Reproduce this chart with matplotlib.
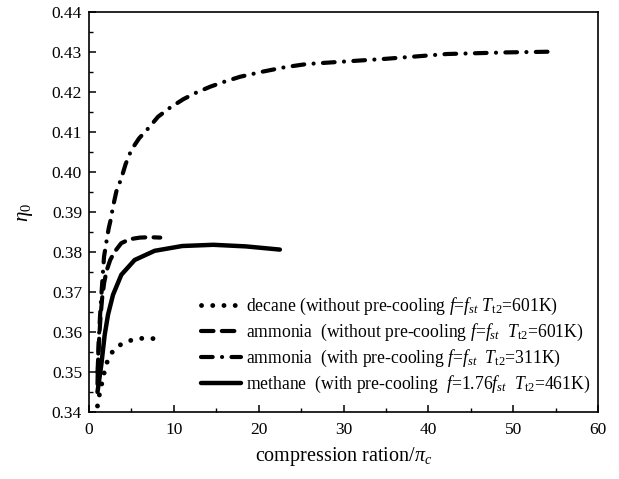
import matplotlib
matplotlib.use("Agg")
import matplotlib.pyplot as plt
from matplotlib.ticker import MultipleLocator

# font tipo Times
plt.rcParams["font.family"] = ["Liberation Serif", "DejaVu Serif"]
plt.rcParams["mathtext.fontset"] = "custom"
plt.rcParams["mathtext.rm"] = "Liberation Serif"
plt.rcParams["mathtext.it"] = "Liberation Serif:italic"

# dati
decane_x = [1.0, 1.06, 1.26, 1.53, 1.8, 2.12, 2.63, 3.4, 4.72, 5.97, 7.23, 8.52]
decane_y = [0.3415, 0.3422, 0.3447, 0.3473, 0.3499, 0.3524, 0.3547, 0.3565, 0.3578, 0.3584, 0.3584, 0.3582]

amm_no_x = [1.0, 1.1, 1.2, 1.35, 1.55, 1.8, 2.1, 2.5, 3.0, 3.8, 4.8, 6.0, 7.2, 8.4]
amm_no_y = [0.350, 0.354, 0.3585, 0.3635, 0.3685, 0.3725, 0.3755, 0.3780, 0.3800, 0.3822,
            0.3832, 0.3836, 0.3837, 0.3836]

amm_pc_x = [1.0, 1.05, 1.15, 1.3, 1.5, 1.77, 2.05, 2.32, 2.55, 2.83, 3.22, 3.81, 4.32, 4.99,
            5.9, 7.15, 8.13, 9.5, 11.12, 12.6, 14.26, 16.0, 17.8, 20.5, 23.1, 25.7, 30.0,
            35.0, 42.2, 49.2, 55.1]
amm_pc_y = [0.347, 0.352, 0.358, 0.364, 0.3705, 0.3788, 0.3825, 0.3859, 0.3880, 0.3913,
            0.3951, 0.3984, 0.4020, 0.4055, 0.4084, 0.4113, 0.4138, 0.4160, 0.4182, 0.4198,
            0.4213, 0.4226, 0.4238, 0.4251, 0.4262, 0.4270, 0.4276, 0.4283, 0.4295, 0.4299, 0.4301]

meth_x = [1.0, 1.2, 1.45, 1.85, 2.24, 2.83, 3.81, 5.38, 7.74, 11.0, 14.65, 18.5, 22.5]
meth_y = [0.345, 0.348, 0.3518, 0.3593, 0.3643, 0.3693, 0.3743, 0.3780, 0.3803, 0.3815,
          0.3818, 0.3814, 0.3806]

etichette = [
    r"decane (without pre-cooling $f$=$f_{st}$ $T_{\rm t2}$=601K)",
    r"ammonia  (without pre-cooling $f$=$f_{st}$  $T_{\rm t2}$=601K)",
    r"ammonia  (with pre-cooling $f$=$f_{st}$  $T_{\rm t2}$=311K)",
    r"methane  (with pre-cooling  $f$=1.76$f_{st}$  $T_{\rm t2}$=461K)",
]

fig = plt.figure(figsize=(6.19, 4.79), dpi=100)
ax = fig.add_axes([89/619, 1-412/479, (598-89)/619, (412-12)/479])

lw = 3.0
ax.plot(decane_x, decane_y, color="black", lw=lw + 0.5, linestyle=(0, (0.01, 2.3)),
        dash_capstyle="round", label=etichette[0])
ax.plot(amm_no_x, amm_no_y, color="black", lw=lw, linestyle=(0, (3.0, 2.0)),
        dash_capstyle="round", label=etichette[1])
ax.plot(amm_pc_x, amm_pc_y, color="black", lw=lw, linestyle=(0, (2.8, 2.25, 0.01, 2.25)),
        dash_capstyle="round", label=etichette[2])
ax.plot(meth_x, meth_y, color="black", lw=lw + 0.2, linestyle="-",
        solid_capstyle="round", label=etichette[3])

ax.set_xlim(0, 60)
ax.set_ylim(0.34, 0.44)
ax.xaxis.set_major_locator(MultipleLocator(10))
ax.xaxis.set_minor_locator(MultipleLocator(5))
ax.yaxis.set_major_locator(MultipleLocator(0.01))
ax.yaxis.set_minor_locator(MultipleLocator(0.005))
ax.yaxis.set_major_formatter(plt.FormatStrFormatter("%.2f"))

ax.tick_params(which="both", direction="in", labelsize=12.5, top=False, right=False)
ax.tick_params(which="major", length=5, width=1.1)
ax.tick_params(which="minor", length=3, width=1.0)
ax.tick_params(axis="x", pad=7)
ax.tick_params(axis="y", pad=5)
for s in ax.spines.values():
    s.set_linewidth(1.2)

ax.set_xlabel(r"compression ration/$\pi_c$", fontsize=14.5, labelpad=5)
ax.set_ylabel(r"$\eta_0$", fontsize=15, labelpad=12)

ax.legend(loc="upper left", bbox_to_anchor=(201/619, 1-296/479), bbox_transform=fig.transFigure,
          frameon=False, fontsize=12.7, handlelength=2.25, handletextpad=0.3,
          labelspacing=0.27, borderpad=0, borderaxespad=0)

fig.savefig("out.png", dpi=100)
